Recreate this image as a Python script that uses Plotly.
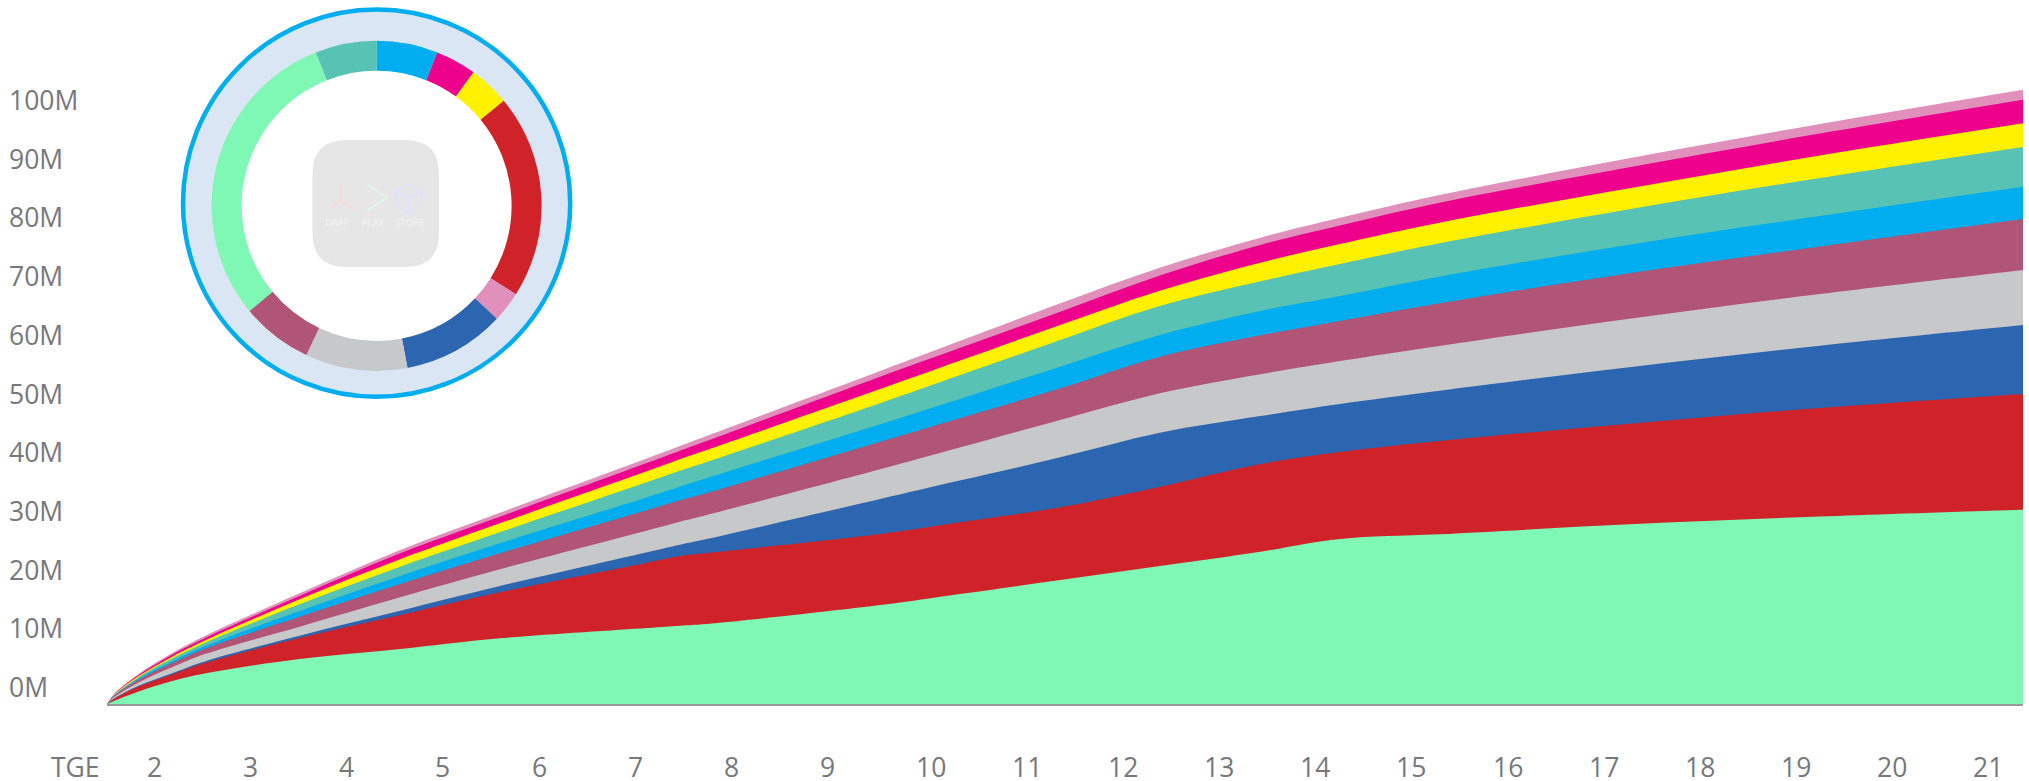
import plotly.graph_objects as go

# ---------- data ----------
MONTHS = [1.00, 1.08, 1.33, 1.68, 2.02, 3.01, 4.06, 5.10, 6.64, 6.98, 7.26, 9.07, 9.90,
          10.95, 11.99, 13.04, 13.87, 14.91, 16.89, 18.88, 21.00]

# cumulative top of every band, in millions of tokens
MINT = [0, 0.56, 2.13, 3.92, 5.20, 7.67, 9.37, 11.19, 12.95, 13.34, 13.63, 16.85, 18.74,
        21.12, 23.50, 25.95, 28.11, 28.91, 30.61, 31.94, 33.10]
RED = [0, 0.94, 2.98, 5.03, 6.98, 11.24, 15.16, 19.03, 24.07, 25.21, 25.72, 28.96, 30.97,
       33.51, 37.02, 40.89, 42.93, 44.80, 47.75, 50.43, 52.81]
BLUE = [0, 0.99, 3.11, 5.25, 7.26, 11.64, 15.89, 20.10, 25.86, 27.14, 28.11, 34.92, 38.06,
        42.03, 46.22, 49.06, 51.11, 53.37, 57.36, 61.04, 64.57]
GRAY = [0, 1.23, 3.68, 6.24, 8.50, 13.17, 18.18, 22.95, 29.57, 31.06, 32.20, 39.98, 43.69,
        48.38, 52.93, 56.17, 58.43, 60.99, 65.64, 69.85, 73.94]
MAUVE = [0, 1.41, 4.11, 6.97, 9.42, 14.87, 20.44, 25.67, 33.05, 34.70, 35.95, 44.69, 48.70,
         53.78, 59.17, 62.81, 65.25, 68.26, 73.37, 77.94, 82.62]
CYAN = [0, 1.48, 4.30, 7.29, 9.83, 15.84, 21.81, 27.38, 35.23, 37.02, 38.50, 47.65, 51.98,
        57.46, 62.86, 66.95, 69.51, 72.80, 78.25, 83.14, 88.13]
TEAL = [0, 1.58, 4.56, 7.73, 10.39, 16.98, 23.39, 29.25, 37.82, 39.74, 41.23, 51.23, 55.99,
        62.01, 67.80, 72.01, 74.96, 78.48, 84.28, 89.61, 94.89]
YELLOW = [0, 1.67, 4.75, 8.06, 10.80, 17.84, 24.65, 30.78, 39.68, 41.69, 43.27, 53.66, 58.48,
          64.57, 70.40, 75.18, 78.37, 81.99, 87.85, 93.44, 98.93]
MAGENTA = [0, 1.75, 4.94, 8.40, 11.21, 18.40, 25.67, 31.91, 41.09, 43.15, 44.80, 55.76, 60.65,
           66.83, 73.00, 78.20, 81.52, 85.40, 91.43, 97.19, 102.95]
PINK = [0, 1.82, 5.11, 8.69, 11.58, 18.86, 26.24, 32.59, 41.86, 43.95, 45.66, 56.73, 61.82,
        68.26, 74.33, 79.44, 82.83, 86.71, 92.97, 98.81, 104.65]

PIE_VALUES = [6, 4, 4, 20, 3, 10, 10, 7, 30, 6]

Y_TICK_VALUES = [0, 10, 20, 30, 40, 50, 60, 70, 80, 90, 100]
Y_TICK_LABELS = ["0M", "10M", "20M", "30M", "40M", "50M", "60M", "70M", "80M", "90M", "100M"]
X_TICK_VALUES = list(range(1, 22))
X_TICK_LABELS = ["TGE"] + [str(i) for i in range(2, 22)]
ICON_WORDS = ["DAPP", "PLAY", "STORE"]

# ---------- styling ----------
C_MINT, C_RED, C_BLUE, C_GRAY, C_MAUVE = "#7FF7B5", "#CF2329", "#2C66B1", "#C6C8CA", "#B05575"
C_CYAN, C_TEAL, C_YELLOW, C_MAGENTA, C_PINK = "#00AEEF", "#58C2B5", "#FFF100", "#EC008C", "#E190BC"
TEXT = "#77787B"
W, H = 2029, 781
L, R, T, B = 107, 6, 0, 77
PW, PH = W - L - R, H - T - B
FONT = "Open Sans"


def px(x):
    return (x - L) / PW


def py(y):
    return (T + PH - y) / PH


fig = go.Figure()

# painted back to front: each band is the area beneath its own cumulative top
bands = [("Pink", PINK, C_PINK), ("Magenta", MAGENTA, C_MAGENTA), ("Yellow", YELLOW, C_YELLOW),
         ("Teal", TEAL, C_TEAL), ("Cyan", CYAN, C_CYAN), ("Mauve", MAUVE, C_MAUVE),
         ("Gray", GRAY, C_GRAY), ("Blue", BLUE, C_BLUE), ("Red", RED, C_RED), ("Mint", MINT, C_MINT)]
for name, vals, col in bands:
    fig.add_trace(go.Scatter(x=MONTHS, y=vals, name=name, mode="lines", fill="tozeroy",
                             fillcolor=col, line=dict(width=0, color=col, shape="spline", smoothing=1.0),
                             showlegend=False, hoverinfo="skip"))

CX, CY, RO, RI = 376.6, 205.8, 165, 135
fig.add_trace(go.Pie(values=PIE_VALUES, sort=False, direction="clockwise", rotation=0,
                     hole=RI / RO, textinfo="none", hoverinfo="skip", showlegend=False,
                     marker=dict(colors=[C_CYAN, C_MAGENTA, C_YELLOW, C_RED, C_PINK, C_BLUE,
                                         C_GRAY, C_MAUVE, C_MINT, C_TEAL], line=dict(width=0)),
                     domain=dict(x=[px(CX - RO), px(CX + RO)], y=[py(CY + RO), py(CY - RO)])))

shapes = []
RING, RING_CY = 193.6, 203.2
shapes.append(dict(type="circle", xref="paper", yref="paper", layer="below",
                   x0=px(CX - RING), x1=px(CX + RING), y0=py(RING_CY + RING), y1=py(RING_CY - RING),
                   fillcolor="#DBE6F4", line=dict(color=C_CYAN, width=4.5)))
shapes.append(dict(type="circle", xref="paper", yref="paper", layer="below",
                   x0=px(CX - RI - 1), x1=px(CX + RI + 1), y0=py(CY + RI + 1), y1=py(CY - RI - 1),
                   fillcolor="white", line=dict(width=0)))


def path(points):
    return "M" + " L".join(f"{px(a):.5f},{py(b):.5f}" for a, b in points)


# rounded icon tile
x0, x1, y0, y1, r = 312.5, 439, 140, 267, 34
tile = (f"M{px(x0 + r):.5f},{py(y0):.5f} L{px(x1 - r):.5f},{py(y0):.5f} "
        f"Q{px(x1):.5f},{py(y0):.5f} {px(x1):.5f},{py(y0 + r):.5f} "
        f"L{px(x1):.5f},{py(y1 - r):.5f} Q{px(x1):.5f},{py(y1):.5f} {px(x1 - r):.5f},{py(y1):.5f} "
        f"L{px(x0 + r):.5f},{py(y1):.5f} Q{px(x0):.5f},{py(y1):.5f} {px(x0):.5f},{py(y1 - r):.5f} "
        f"L{px(x0):.5f},{py(y0 + r):.5f} Q{px(x0):.5f},{py(y0):.5f} {px(x0 + r):.5f},{py(y0):.5f} Z")
shapes.append(dict(type="path", xref="paper", yref="paper", path=tile, fillcolor="#E6E6E6",
                   line=dict(width=0), layer="below"))

glyphs = [
    ("#FFD9D0", [(340.7, 184), (340.7, 200)]),
    ("#FFD9D0", [(329.3, 209.3), (340.7, 200), (354.7, 209.3)]),
    ("#DFFBEA", [(367.3, 184.3), (387.3, 197.7), (367.3, 210.3)]),
    ("#DDE2FF", [(408.7, 184), (421.7, 191), (421.7, 205.3), (408.7, 212.3), (396, 205.3), (396, 191), (408.7, 184)]),
    ("#DDE2FF", [(396, 191), (408.7, 197.7), (421.7, 191)]),
    ("#DDE2FF", [(408.7, 197.7), (408.7, 212.3)]),
]
for col, pts in glyphs:
    shapes.append(dict(type="path", xref="paper", yref="paper", path=path(pts),
                       line=dict(color=col, width=1.5), layer="below"))

annotations = []
for v, t in zip(Y_TICK_VALUES, Y_TICK_LABELS):
    annotations.append(dict(xref="paper", x=0, yref="y", y=v, text=t, showarrow=False,
                            xanchor="left", yanchor="middle", xshift=-99, yshift=17,
                            borderpad=0, font=dict(family=FONT, size=26.5, color=TEXT)))
for v, t in zip(X_TICK_VALUES, X_TICK_LABELS):
    annotations.append(dict(xref="x", x=v, yref="paper", y=0, text=t,
                            showarrow=False, xanchor="left", yanchor="middle",
                            xshift=-57 + (v - 1) * 0.3, yshift=-63, borderpad=0,
                            font=dict(family=FONT, size=26.5, color=TEXT)))
for word, cx in zip(ICON_WORDS, [337, 373, 410]):
    annotations.append(dict(xref="paper", x=px(cx), yref="paper", y=py(223), text=word,
                            showarrow=False, xanchor="center", yanchor="middle", borderpad=0,
                            font=dict(family="DejaVu Sans", size=9, color="#F5F5F5")))

fig.update_layout(
    width=W, height=H, autosize=False,
    margin=dict(l=L, r=R, t=T, b=B, pad=0),
    paper_bgcolor="white", plot_bgcolor="white", showlegend=False,
    shapes=shapes, annotations=annotations,
    xaxis=dict(range=[1, 21], showgrid=False, zeroline=False, showticklabels=False, ticks="",
               showline=True, linecolor="#999999", linewidth=2, fixedrange=True),
    yaxis=dict(range=[0, PH / 5.87], showgrid=False, zeroline=False, showticklabels=False,
               ticks="", showline=False, fixedrange=True),
)

fig.write_html("out.html", config=dict(displayModeBar=False),
               post_script="document.body.style.margin='0';document.body.style.overflow='hidden';")
